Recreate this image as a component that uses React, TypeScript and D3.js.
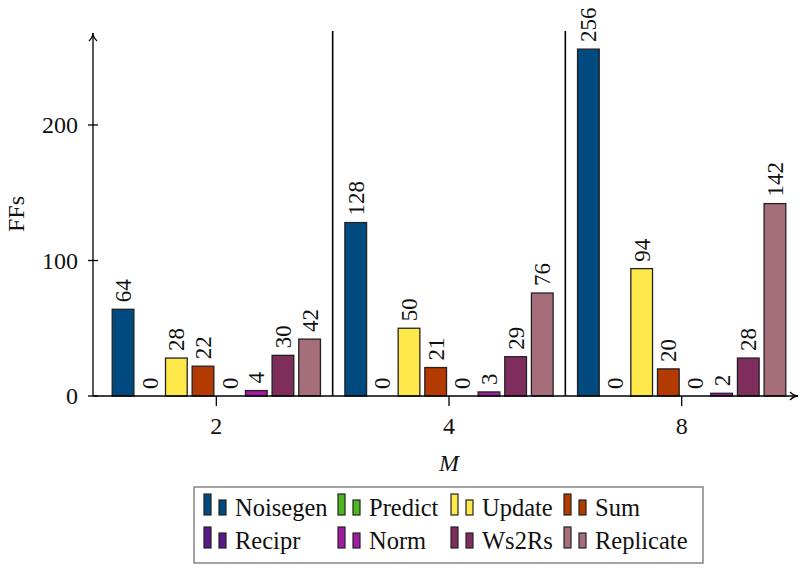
import React from "react";
import * as d3 from "d3";

// Flip-flop counts per module, grouped by M
const groups = ["2", "4", "8"];
const modules = ["Noisegen", "Predict", "Update", "Sum", "Recipr", "Norm", "Ws2Rs", "Replicate"];
const noisegen = [64, 128, 256];
const predict = [0, 0, 0];
const update = [28, 50, 94];
const sum = [22, 21, 20];
const recipr = [0, 0, 0];
const norm = [4, 3, 2];
const ws2rs = [30, 29, 28];
const replicate = [42, 76, 142];
const seriesValues = [noisegen, predict, update, sum, recipr, norm, ws2rs, replicate];
const colors = ["#004a80", "#4db81e", "#ffe84a", "#b33a00", "#581a8a", "#a31aa3", "#7f2d5c", "#a66e7a"];
const yTicks = [0, 100, 200];

const W = 800;
const H = 568;
const font = { fontFamily: '"Liberation Serif"' };

export default function App() {
  const x0 = 93;
  const yBase = 396;
  const yTop = 33;
  const xRight = 798;

  const y = d3.scaleLinear().domain([0, 200]).range([yBase, 125]);
  const xg = d3.scaleBand<string>().domain(groups).range([100, 798]);
  const barW = 21.7;
  const pitch = 26.65;
  const xs = d3
    .scaleBand<string>()
    .domain(modules)
    .range([-pitch * 4, pitch * 4]);

  const legendCols = [204, 338, 451, 564];
  const legendRows = [516, 549];

  return (
    <svg width={W} height={H} style={{ position: "absolute", left: 0, top: 0, background: "#fff" }}>
      <defs>
        <marker id="arr" viewBox="0 0 10 10" refX="9" refY="5" markerWidth="10" markerHeight="10" orient="auto" markerUnits="userSpaceOnUse">
          <path d="M1,1 Q5,5 9,5 Q5,5 1,9" fill="none" stroke="#000" strokeWidth={1.3} />
        </marker>
      </defs>

      {/* group separators */}
      {groups.slice(1).map((g) => (
        <line key={g} x1={xg(g)!} x2={xg(g)!} y1={31} y2={yBase} stroke="#000" strokeWidth={1.6} />
      ))}

      {/* bars */}
      {groups.map((g, gi) => {
        const cx = xg(g)! + xg.bandwidth() / 2;
        return modules.map((m, mi) => {
          const v = seriesValues[mi][gi];
          const bx = cx + xs(m)! + (xs.bandwidth() - barW) / 2;
          const top = y(v);
          const lx = bx + barW / 2;
          return (
            <g key={g + m}>
              <rect x={bx} y={top} width={barW} height={yBase - top} fill={colors[mi]} stroke="#222" strokeWidth={1.3} />
              <text
                transform={`translate(${lx + 8},${top - 7}) rotate(-90)`}
                fontSize={23}
                textAnchor="start"
                fill="#111"
                style={font}
              >
                {v}
              </text>
            </g>
          );
        });
      })}

      {/* axes */}
      <line x1={x0} x2={xRight} y1={yBase} y2={yBase} stroke="#000" strokeWidth={1.3} markerEnd="url(#arr)" />
      <line x1={x0} x2={x0} y1={yBase} y2={yTop} stroke="#000" strokeWidth={1.3} markerEnd="url(#arr)" />

      {yTicks.map((t) => (
        <g key={t}>
          <line x1={x0 - 5} x2={x0 + 5} y1={y(t)} y2={y(t)} stroke="#000" strokeWidth={1.3} />
          <text x={78} y={y(t) + 8} fontSize={24} textAnchor="end" fill="#111" style={font}>
            {t}
          </text>
        </g>
      ))}
      {groups.map((g) => {
        const cx = xg(g)! + xg.bandwidth() / 2;
        return (
          <g key={g}>
            <line x1={cx} x2={cx} y1={yBase} y2={yBase + 10} stroke="#000" strokeWidth={1.3} />
            <text x={cx} y={434} fontSize={24} textAnchor="middle" fill="#111" style={font}>
              {g}
            </text>
          </g>
        );
      })}

      <text x={449} y={471} fontSize={24} fontStyle="italic" textAnchor="middle" fill="#111" style={font}>
        M
      </text>
      <text transform={`translate(24,214) rotate(-90)`} fontSize={24} textAnchor="middle" fill="#111" style={font}>
        FFs
      </text>

      {/* legend */}
      <rect x={194} y={487} width={509} height={76} fill="#fff" stroke="#666" strokeWidth={1.2} />
      {modules.map((m, i) => {
        const lx = legendCols[i % 4];
        const by = legendRows[Math.floor(i / 4)];
        return (
          <g key={m}>
            <rect x={lx} y={by - 22} width={7} height={21} fill={colors[i]} stroke="#222" strokeWidth={1.2} />
            <rect x={lx + 15} y={by - 16} width={7} height={15} fill={colors[i]} stroke="#222" strokeWidth={1.2} />
            <text x={lx + 31} y={by} fontSize={24.5} fill="#111" style={font}>
              {m}
            </text>
          </g>
        );
      })}
    </svg>
  );
}
